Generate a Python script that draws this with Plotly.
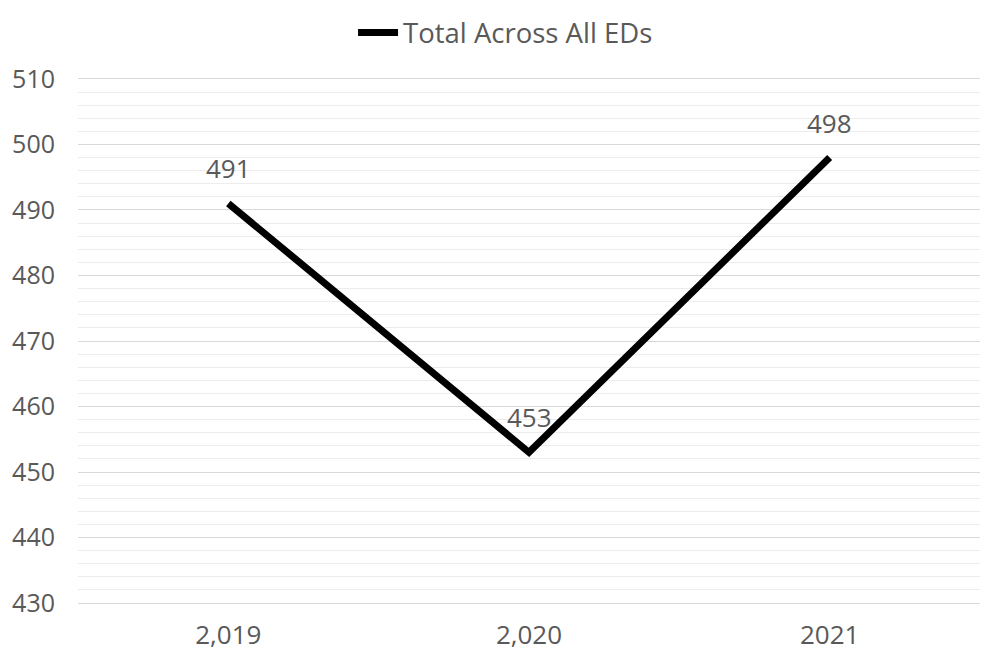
import plotly.graph_objects as go

categories = ["2,019", "2,020", "2021"]
values = [491, 453, 498]
series_name = "Total Across All EDs"

font_family = "Open Sans, Noto Sans, sans-serif"
text_color = "#595959"
xpos = list(range(len(categories)))

fig = go.Figure()
fig.add_trace(go.Scatter(
    x=xpos, y=values, mode="lines", name=series_name,
    line=dict(color="#000000", width=7),
    showlegend=True,
))

for xi, v in zip(xpos, values):
    fig.add_annotation(x=xi, y=v, text=str(v), showarrow=False,
                       yshift=35, yanchor="middle",
                       font=dict(family=font_family, size=26, color=text_color))

fig.update_layout(
    width=991, height=661,
    margin=dict(l=70, r=19, t=69, b=64),
    paper_bgcolor="white", plot_bgcolor="white",
    font=dict(family=font_family, size=26, color=text_color),
    showlegend=True,
    legend=dict(orientation="h", x=0.474, xanchor="center", y=1.0, yanchor="top",
                yref="container", font=dict(size=27.5, color=text_color), itemwidth=40,
                borderwidth=0),
)
fig.update_xaxes(range=[-0.5, len(categories) - 0.5], tickvals=xpos, ticktext=categories,
                 showgrid=False, showline=False, zeroline=False, automargin=False,
                 ticks="", ticklabelstandoff=12,
                 tickfont=dict(size=26, color=text_color))
fig.update_yaxes(range=[429.7, 510.3], tickvals=list(range(430, 511, 10)), showgrid=True,
                 automargin=False,
                 gridcolor="#d9d9d9", gridwidth=1.3, zeroline=False, showline=False,
                 ticks="", ticklabelstandoff=22,
                 tickfont=dict(size=25, color=text_color),
                 minor=dict(tickvals=[v for v in range(432, 510, 2) if v % 10],
                            showgrid=True, gridcolor="#ececec", gridwidth=1.3))

fig.write_html("out.html")
